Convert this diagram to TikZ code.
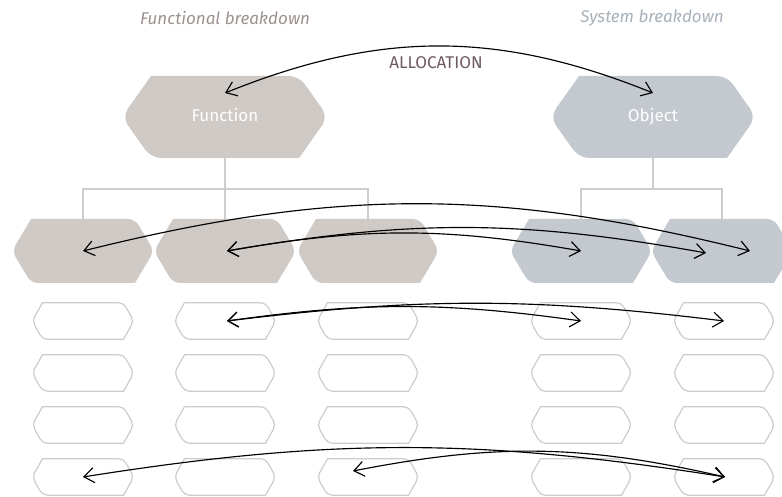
\documentclass[tikz,border=0pt]{standalone}
\usepackage{fontspec}
\setmainfont{Fira Sans}
\usetikzlibrary{arrows.meta}

\definecolor{funfill}{HTML}{CFCAC6}
\definecolor{objfill}{HTML}{C3C9CE}
\definecolor{hexline}{HTML}{CCCCCC}
\definecolor{treeline}{HTML}{CDCDCD}
\definecolor{funtext}{HTML}{9C918D}
\definecolor{objtext}{HTML}{A8B1B9}
\definecolor{alloctext}{HTML}{6E5A60}

\tikzset{
  hexo/.store in=\hexo, hexr/.store in=\hexr, hexi/.store in=\hexi,
  hexpaint/.style={},
  hexagon/.style={inner sep=0pt, outer sep=0pt, hexi=0pt,
    path picture={
      \path[hexpaint] ([yshift=-\hexi]path picture bounding box.north)
        [rounded corners=\hexr] -- ([xshift=-\hexo,yshift=-\hexi]path picture bounding box.north east)
        -- ([xshift=-\hexi]path picture bounding box.east)
        [sharp corners] -- ([xshift=-\hexo,yshift=\hexi]path picture bounding box.south east)
        [rounded corners=\hexr] -- ([xshift=\hexo,yshift=\hexi]path picture bounding box.south west)
        -- ([xshift=\hexi]path picture bounding box.west)
        [sharp corners] -- ([xshift=\hexo,yshift=-\hexi]path picture bounding box.north west)
        [rounded corners=\hexr] -- cycle;
    }},
  topbox/.style={hexagon, minimum width=206pt, minimum height=82pt, hexo=29pt, hexr=10pt,
    text=white, text height=12pt, text depth=3pt, font=\fontsize{17}{20}\selectfont},
  rowbox/.style={hexagon, minimum width=142pt, minimum height=64pt, hexo=19pt, hexr=7pt},
  cellbox/.style={hexagon, minimum width=103pt, minimum height=38pt, hexo=11pt, hexr=5pt,
    hexi=0.7pt, hexpaint/.style={draw=hexline, line width=1.2pt}},
  funstyle/.style={hexpaint/.style={fill=funfill}},
  objstyle/.style={hexpaint/.style={fill=objfill}},
  head/.style={font=\fontsize{17}{20}\selectfont\itshape},
  tree/.style={draw=treeline, line width=1.6pt},
  link/.style={<->, line width=1.15pt},
  >={Straight Barb[length=10pt,width=15pt]},
}

\begin{document}
\begin{tikzpicture}[x=1pt,y=1pt]
\useasboundingbox (0,0) rectangle (782,497);
% headings
\node[head, text=funtext] (funhead) at (225,479) {Functional breakdown};
\node[head, text=objtext] (objhead) at (652,479) {System breakdown};
\node[font=\fontsize{17}{20}\selectfont, text=alloctext] (alloc) at (436,434) {ALLOCATION};
% top level
\node[topbox, funstyle] (fun) at (225,380) {Function};
\node[topbox, objstyle] (obj) at (653,380) {Object};
% first level
\node[rowbox, funstyle] (f1) at (83,246) {};
\node[rowbox, funstyle] (f2) at (225,246) {};
\node[rowbox, funstyle] (f3) at (368,246) {};
\node[rowbox, objstyle] (o1) at (581,246) {};
\node[rowbox, objstyle] (o2) at (722,246) {};
% empty cells
\foreach \y [count=\r] in {176,124,72,20}
  \foreach \x [count=\c] in {83,225,368,581,724}
    \node[cellbox] (s\r\c) at (\x,\y) {};
% tree
\draw[tree] (fun.south) -- (f2.north);
\draw[tree] (f1.north) -- ++(0,30) -| (f3.north);
\draw[tree] (obj.south) -- ++(0,-31);
\draw[tree] (o1.north) -- ++(0,30) -| (o2.north);
% allocation links
\draw[link] ([yshift=24]fun.center) to[bend left=22] ([yshift=24]obj.center);
\draw[link] (f1.center) to[bend left=14] ([xshift=28]o2.center);
\draw[link] ([xshift=2]f2.center) to[bend left=10] (o1.center);
\draw[link] ([xshift=2]f2.center) to[bend left=10] ([xshift=-16,yshift=-2]o2.center);
\draw[link] ([xshift=2]s12.center) to[bend left=8] (s14.center);
\draw[link] ([xshift=2]s12.center) to[bend left=7] (s15.center);
\draw[link] (s41.center) to[bend left=9] ([xshift=1]s45.center);
\draw[link] ([xshift=-15,yshift=6]s43.center) to[bend left=12] ([xshift=1]s45.center);
\end{tikzpicture}
\end{document}
